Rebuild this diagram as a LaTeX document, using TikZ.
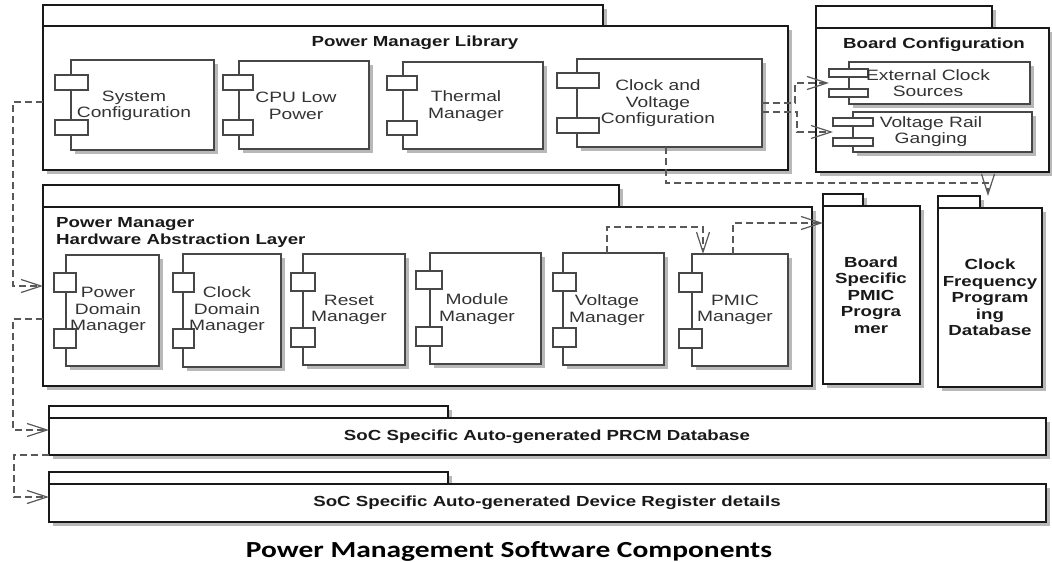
\documentclass[tikz,border=0pt]{standalone}
\usepackage{fontspec}
\setmainfont{Liberation Sans}[FakeStretch=1.28]
\newfontfamily\capfont{Carlito}[FakeStretch=1.28]
\usetikzlibrary{arrows.meta,shadows,calc}
\tikzset{
  shd/.style={drop shadow={shadow xshift=4pt,shadow yshift=-4pt,fill=black!28,opacity=1}},
  pkg/.style={draw=black!90,line width=2.2pt,fill=white,inner sep=0pt,outer sep=0pt,shd},
  comp/.style={draw=black!72,line width=1.3pt,fill=white,inner sep=0pt,outer sep=0pt,shd},
  port/.style={draw=black!72,line width=1.1pt,fill=white,inner sep=0pt,outer sep=0pt},
  ctext/.style={align=center,font=\fontsize{15}{16.5}\selectfont,text=black!80,inner sep=0pt},
  ttext/.style={align=center,font=\bfseries\fontsize{14.6}{16.5}\selectfont,text=black!90,inner sep=0pt},
  dep/.style={draw=black!65,line width=1.2pt,dash pattern=on 7pt off 4pt,
    -{Straight Barb[length=20pt,width=13pt,line width=1.2pt]}}
}
\newcommand\mkbox[6]{\node[#1,minimum width={(#5-#3)*1pt},minimum height={(#6-#4)*1pt}] (#2) at ({(#3+#5)/2},{(#4+#6)/2}) {};}
\begin{document}
\begin{tikzpicture}[x=1pt,y=-1pt]
\useasboundingbox[fill=white] (0,0) rectangle (1052,562);

% ---------- Power Manager Library ----------
\mkbox{pkg}{pmltab}{43}{5}{603}{26}
\mkbox{pkg}{pml}{43}{26}{788}{170}
\node[ttext] (pmltitle) at (415,43) {Power Manager Library};

\mkbox{comp}{sc}{71}{60}{214}{150}
\mkbox{port}{sc-p1}{55}{75}{88}{90}
\mkbox{port}{sc-p2}{55}{120}{88}{135}
\node[ctext] (sct) at (134,106) {System\\Configuration};

\mkbox{comp}{cpu}{239}{61}{369}{149}
\mkbox{port}{cpu-p1}{223}{75}{253}{90}
\mkbox{port}{cpu-p2}{223}{120}{253}{135}
\node[ctext] (cput) at (296,106) {CPU Low\\Power};

\mkbox{comp}{thm}{403}{62}{543}{149}
\mkbox{port}{thm-p1}{387}{76}{417}{90}
\mkbox{port}{thm-p2}{387}{121}{417}{135}
\node[ctext] (thmt) at (466,106) {Thermal\\Manager};

\mkbox{comp}{cvc}{577}{59}{762}{147}
\mkbox{port}{cvc-p1}{557}{73}{599}{88}
\mkbox{port}{cvc-p2}{557}{118}{599}{133}
\node[ctext] (cvct) at (658,103.5) {Clock and\\Voltage\\Configuration};

% ---------- Board Configuration ----------
\mkbox{pkg}{bctab}{816}{6}{992}{28}
\mkbox{pkg}{bc}{816}{28}{1049}{172}
\node[ttext] (bctitle) at (934,45) {Board Configuration};

\mkbox{comp}{ecs}{849}{62}{1030}{104}
\mkbox{port}{ecs-p1}{829}{69}{868}{77}
\mkbox{port}{ecs-p2}{829}{89}{868}{97}
\node[ctext] (ecst) at (928,83) {External Clock\\Sources};

\mkbox{comp}{vrg}{853}{112}{1032}{152}
\mkbox{port}{vrg-p1}{833}{118}{873}{126}
\mkbox{port}{vrg-p2}{833}{138}{873}{146}
\node[ctext] (vrgt) at (931,131.5) {Voltage Rail\\Ganging};

% ---------- HAL ----------
\mkbox{pkg}{haltab}{43}{185}{619}{207}
\mkbox{pkg}{hal}{43}{207}{812}{386}
\node[ttext,align=left,anchor=west,font=\bfseries\fontsize{14.6}{17}\selectfont] (haltitle) at (56,232.5) {Power Manager\\Hardware Abstraction Layer};

\mkbox{comp}{pdm}{66}{255}{159}{366}
\mkbox{port}{pdm-p1}{54}{273}{76}{292}
\mkbox{port}{pdm-p2}{54}{329}{76}{348}
\node[ctext] (pdmt) at (108,310.5) {Power\\Domain\\Manager};

\mkbox{comp}{cdm}{183}{254}{281}{367}
\mkbox{port}{cdm-p1}{173}{273}{194}{292}
\mkbox{port}{cdm-p2}{173}{329}{194}{348}
\node[ctext] (cdmt) at (227,310.5) {Clock\\Domain\\Manager};

\mkbox{comp}{rst}{303}{254}{405}{365}
\mkbox{port}{rst-p1}{291}{273}{315}{291}
\mkbox{port}{rst-p2}{291}{328}{315}{347}
\node[ctext] (rstt) at (349,310) {Reset\\Manager};

\mkbox{comp}{mod}{430}{253}{541}{364}
\mkbox{port}{mod-p1}{416}{271}{442}{289}
\mkbox{port}{mod-p2}{416}{327}{442}{346}
\node[ctext] (modt) at (477,309) {Module\\Manager};

\mkbox{comp}{vm}{563}{253}{664}{365}
\mkbox{port}{vm-p1}{553}{273}{576}{291}
\mkbox{port}{vm-p2}{553}{328}{576}{347}
\node[ctext] (vmt) at (607,310) {Voltage\\Manager};

\mkbox{comp}{pmic}{692}{254}{788}{366}
\mkbox{port}{pmic-p1}{679}{273}{702}{292}
\mkbox{port}{pmic-p2}{679}{329}{702}{348}
\node[ctext] (pmict) at (735,310) {PMIC\\Manager};

% ---------- Board Specific PMIC Programer ----------
\mkbox{pkg}{bsptab}{823}{194}{863}{206}
\mkbox{pkg}{bsp}{823}{206}{920}{384}
\node[ttext] (bspt) at (871,295) {Board\\Specific\\PMIC\\Progra\\mer};

% ---------- Clock Frequency Programming Database ----------
\mkbox{pkg}{cfdtab}{938}{196}{980}{208}
\mkbox{pkg}{cfd}{938}{208}{1042}{387}
\node[ttext] (cfdt) at (990,297.5) {Clock\\Frequency\\Program\\ing\\Database};

% ---------- PRCM / Device Register ----------
\mkbox{pkg}{prcmtab}{49}{406}{448}{418}
\mkbox{pkg}{prcm}{49}{418}{1046}{455}
\node[ttext] (prcmt) at (547,437) {SoC Specific Auto-generated PRCM Database};

\mkbox{pkg}{devtab}{49}{472}{448}{484}
\mkbox{pkg}{dev}{49}{484}{1046}{522}
\node[ttext] (devt) at (547,503) {SoC Specific Auto-generated Device Register details};

% ---------- caption ----------
\node[inner sep=0pt,font=\capfont\bfseries\fontsize{23}{26}\selectfont] (caption) at (509,551) {Power Management Software Components};

% ---------- dependencies ----------
\draw[dep] (pml.west |- 0,102) -| (13,286) -- (hal.west |- 0,286);
\draw[dep] (hal.west |- 0,319) -| (13,430) -- (prcm.west |- 0,430);
\draw[dep] (prcm.south west) -| (14,497) -- (dev.west |- 0,497);
\draw[dep] (cvc.east) -| (795,83) -- ($(ecs-p1.south west)!0.5!(ecs-p2.north west)$);
\draw[dep] ([yshift=-9pt]cvc.east) -| (797,132) -- ($(vrg-p1.south west)!0.5!(vrg-p2.north west)$);
\draw[dep] (cvc.south -| 666,0) |- (988,183) -- ([xshift=8pt]cfdtab.north east);
\draw[dep] (vm.north -| 607,0) |- (703,227) -- (pmic.north -| 703,0);
\draw[dep] (pmic.north -| 733,0) |- (bsp.west |- 0,223);
\end{tikzpicture}
\end{document}
